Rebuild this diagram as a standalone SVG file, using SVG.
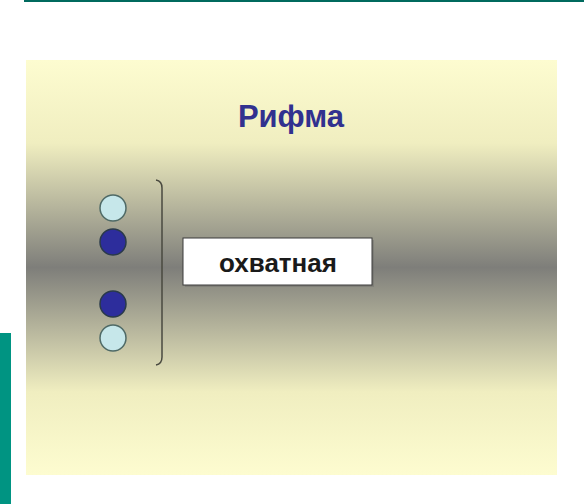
<svg xmlns="http://www.w3.org/2000/svg" width="584" height="504" viewBox="0 0 584 504">
<defs>
<linearGradient id="bg" x1="0" y1="0" x2="0" y2="1">
<stop offset="0" stop-color="#fdfcd0"/>
<stop offset="0.2" stop-color="#f0eec0"/>
<stop offset="0.5" stop-color="#7e7e7a"/>
<stop offset="0.8" stop-color="#f0eec0"/>
<stop offset="1" stop-color="#fdfcd0"/>
</linearGradient>
<style>
.light{fill:#c6e7ea;stroke:#4f6a66;stroke-width:1.5}
.dark{fill:#2d2d9c;stroke:#2a3a4a;stroke-width:1.5}
.t{font-family:"Liberation Sans",Arial,sans-serif;font-weight:bold;text-anchor:middle}
</style>
</defs>
<rect width="584" height="504" fill="#ffffff"/>
<rect x="24" y="0" width="560" height="2" fill="#006a5e"/>
<rect x="0" y="333" width="11" height="171" fill="#009482"/>
<rect x="26" y="60" width="531" height="415" fill="url(#bg)"/>
<g id="title"><text class="t" x="291" y="127" font-size="31" fill="#31318f">Рифма</text></g>
<g id="c1"><circle class="light" cx="113" cy="208" r="13"/></g>
<g id="c2"><circle class="dark" cx="113" cy="242" r="13"/></g>
<g id="c3"><circle class="dark" cx="113" cy="304" r="13"/></g>
<g id="c4"><circle class="light" cx="113" cy="338" r="13"/></g>
<g id="bracket"><path d="M156 180 Q162 181 162 188 L162 357 Q162 364 156 365" fill="none" stroke="#4a4a40" stroke-width="1.5"/></g>
<g id="box">
<rect x="185" y="240" width="189" height="47" fill="#6a6a66" opacity="0.4"/>
<rect x="183" y="238" width="189" height="47" fill="#ffffff" stroke="#3a3a3a" stroke-width="1"/>
<text class="t" x="278" y="272" font-size="26" fill="#1a1a1a">охватная</text>
</g>
</svg>
